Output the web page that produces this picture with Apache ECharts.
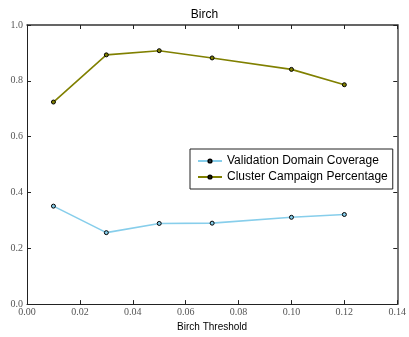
<!DOCTYPE html>
<html><head><meta charset="utf-8">
<script src="https://cdn.jsdelivr.net/npm/echarts@6/dist/echarts.min.js"></script>
<style>html,body{margin:0;padding:0;background:#fff}#c{width:409px;height:337px}</style>
</head><body><div id="c"></div>
<script>
const thresholds = [0.01, 0.03, 0.05, 0.07, 0.10, 0.12];
const validationCoverage = [0.351, 0.256, 0.289, 0.290, 0.311, 0.321];
const clusterCampaign = [0.724, 0.893, 0.908, 0.882, 0.841, 0.786];
const seriesNames = ['Validation Domain Coverage', 'Cluster Campaign Percentage'];
const seriesColors = ['#87ceeb', '#808000'];

const chart = echarts.init(document.getElementById('c'), null, {renderer: 'canvas'});
const tickFont = {fontFamily: 'Liberation Serif', fontSize: 10, color: '#555'};
const mk = (vals) => thresholds.map((x, i) => [x, vals[i]]);
chart.setOption({
  animation: false,
  title: {text: 'Birch', left: 'center', top: 4, textStyle: {fontFamily: 'Liberation Sans', fontSize: 12, fontWeight: 'normal', color: '#000'}},
  grid: {left: 27, right: 10, top: 25, bottom: 25, containLabel: false},
  legend: {
    orient: 'vertical', left: 190, top: 149,
    data: seriesNames,
    borderColor: '#222', borderWidth: 1, padding: [6, 5, 6, 7], itemGap: 4,
    itemWidth: 24, itemHeight: 4,
    textStyle: {fontFamily: 'Liberation Sans', fontSize: 12, color: '#000'}
  },
  xAxis: [{
    type: 'value', min: 0, max: 0.14, interval: 0.02,
    name: 'Birch Threshold', nameLocation: 'middle', nameGap: 14,
    nameTextStyle: {fontFamily: 'Liberation Sans', fontSize: 10, color: '#000'},
    axisLine: {show: true, onZero: false, lineStyle: {color: '#222', width: 1}},
    axisTick: {show: true, inside: true, length: 4, lineStyle: {color: '#222'}},
    axisLabel: Object.assign({margin: 3, formatter: v => v.toFixed(2)}, tickFont),
    splitLine: {show: false}
  }, {
    type: 'value', position: 'top', min: 0, max: 0.14, interval: 0.02,
    axisLine: {show: true, onZero: false, lineStyle: {color: '#333', width: 1.5}},
    axisTick: {show: true, inside: true, length: 4, lineStyle: {color: '#222'}},
    axisLabel: {show: false}, splitLine: {show: false}
  }],
  yAxis: [{
    type: 'value', min: 0, max: 1.0, interval: 0.2,
    axisLine: {show: true, onZero: false, lineStyle: {color: '#222', width: 1}},
    axisTick: {show: true, inside: true, length: 4, lineStyle: {color: '#222'}},
    axisLabel: Object.assign({margin: 4, formatter: v => v.toFixed(1)}, tickFont),
    splitLine: {show: false}
  }, {
    type: 'value', position: 'right', min: 0, max: 1.0, interval: 0.2,
    axisLine: {show: true, onZero: false, lineStyle: {color: '#777', width: 2}},
    axisTick: {show: true, inside: true, length: 4, lineStyle: {color: '#222'}},
    axisLabel: {show: false}, splitLine: {show: false}
  }],
  series: [{
    name: seriesNames[0], type: 'line', data: mk(validationCoverage),
    symbol: 'circle', symbolSize: 4,
    lineStyle: {color: seriesColors[0], width: 1.6},
    itemStyle: {color: seriesColors[0], borderColor: '#000', borderWidth: 1}
  }, {
    name: seriesNames[1], type: 'line', data: mk(clusterCampaign),
    symbol: 'circle', symbolSize: 4,
    lineStyle: {color: seriesColors[1], width: 1.6},
    itemStyle: {color: seriesColors[1], borderColor: '#000', borderWidth: 1}
  }]
});
</script></body></html>
